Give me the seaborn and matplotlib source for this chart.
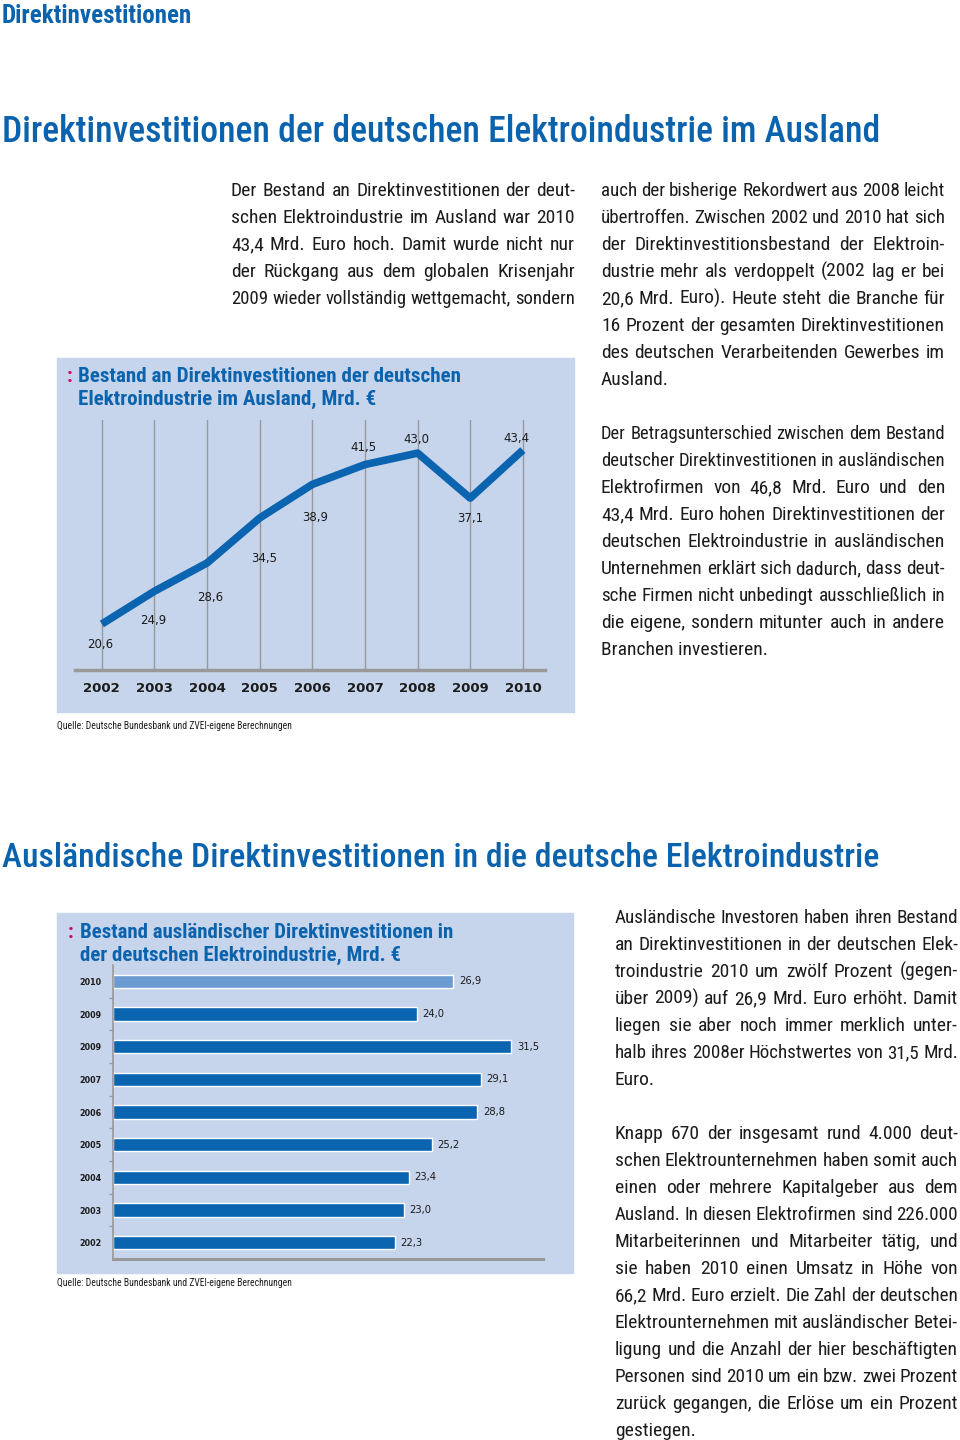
import matplotlib
matplotlib.use("Agg")
import matplotlib.pyplot as plt
import numpy as np
import pandas as pd
import seaborn as sns
from matplotlib import font_manager
from matplotlib.font_manager import FontProperties
from matplotlib.patches import Rectangle

# --- data -------------------------------------------------------------
line_years = [2002, 2003, 2004, 2005, 2006, 2007, 2008, 2009, 2010]
line_values = [20.6, 24.9, 28.6, 34.5, 38.9, 41.5, 43.0, 37.1, 43.4]

bar_labels = ["2010", "2009", "2009", "2007", "2006", "2005", "2004", "2003", "2002"]
bar_values = [26.9, 24.0, 31.5, 29.1, 28.8, 25.2, 23.4, 23.0, 22.3]

header = "Direktinvestitionen"
title1 = "Direktinvestitionen der deutschen Elektroindustrie im Ausland"
title2 = "Ausländische Direktinvestitionen in die deutsche Elektroindustrie"
chart1_title = ["Bestand an Direktinvestitionen der deutschen",
                "Elektroindustrie im Ausland, Mrd. €"]
chart2_title = ["Bestand ausländischer Direktinvestitionen in",
                "der deutschen Elektroindustrie, Mrd. €"]
source = "Quelle: Deutsche Bundesbank und ZVEI-eigene Berechnungen"

text1_left = [
    "Der Bestand an Direktinvestitionen der  deut-",
    "schen Elektroindustrie im Ausland war 2010",
    "43,4 Mrd. Euro hoch. Damit wurde nicht nur",
    "der Rückgang aus dem globalen Krisenjahr",
    "2009 wieder vollständig wettgemacht, sondern",
]
text1_right_a = [
    "auch der bisherige Rekordwert aus 2008 leicht",
    "übertroffen. Zwischen 2002 und 2010 hat sich",
    "der Direktinvestitionsbestand der Elektroin-",
    "dustrie mehr als verdoppelt (2002 lag er bei",
    "20,6 Mrd. Euro). Heute steht die Branche für",
    "16 Prozent der gesamten Direktinvestitionen",
    "des deutschen Verarbeitenden Gewerbes im",
    "Ausland.",
]
text1_right_b = [
    "Der Betragsunterschied zwischen dem Bestand",
    "deutscher Direktinvestitionen in ausländischen",
    "Elektrofirmen von 46,8 Mrd. Euro und den",
    "43,4 Mrd. Euro hohen Direktinvestitionen der",
    "deutschen Elektroindustrie in ausländischen",
    "Unternehmen erklärt sich dadurch, dass deut-",
    "sche Firmen nicht unbedingt ausschließlich in",
    "die eigene, sondern mitunter auch in andere",
    "Branchen investieren.",
]
text2_a = [
    "Ausländische Investoren haben ihren Bestand",
    "an Direktinvestitionen in der deutschen Elek-",
    "troindustrie 2010 um zwölf Prozent (gegen-",
    "über 2009) auf 26,9 Mrd. Euro erhöht. Damit",
    "liegen sie aber noch immer merklich unter-",
    "halb ihres 2008er Höchstwertes von 31,5 Mrd.",
    "Euro.",
]
text2_b = [
    "Knapp 670 der insgesamt rund 4.000 deut-",
    "schen Elektrounternehmen haben somit auch",
    "einen oder mehrere Kapitalgeber aus dem",
    "Ausland. In diesen Elektrofirmen sind 226.000",
    "Mitarbeiterinnen und Mitarbeiter tätig, und",
    "sie haben 2010 einen Umsatz in Höhe von",
    "66,2 Mrd. Euro erzielt. Die Zahl der deutschen",
    "Elektrounternehmen mit ausländischer Betei-",
    "ligung und die Anzahl der hier beschäftigten",
    "Personen sind 2010 um ein bzw. zwei Prozent",
    "zurück gegangen, die Erlöse um ein Prozent",
    "gestiegen.",
]

# --- style ------------------------------------------------------------
BLUE = "#0c63ad"
LINE_BLUE = "#0a64b0"
LIGHT_BAR = "#6b9bd1"
PINK = "#d6006e"
PANEL = "#c6d4ec"
GRID = "#999999"
INK = "#1c1c1c"
NUM_FONT = ["DejaVu Sans"]

# label offsets (points) for the line chart value labels
label_dx = [-1, -1, 2, 3, 2, -1, -1, 0, -5]
label_dy = [-15, -21, -25, -29, -24, 12, 10, -15, 8]

sns.set_theme(style="white")
available = {f.name for f in font_manager.fontManager.ttflist}
FONT = "DejaVu Sans"
for cand in ["Liberation Sans Narrow", "Roboto Condensed", "Arial Narrow", "Roboto", "Liberation Sans"]:
    if cand in available:
        FONT = cand
        break
plt.rcParams["font.family"] = [FONT, "DejaVu Sans"]

W, H = 960, 1440
fig = plt.figure(figsize=(W / 100, H / 100), dpi=100)
fig.patch.set_facecolor("white")
renderer = fig.canvas.get_renderer()


def fx(x):
    return x / W


def fy(y):
    return 1 - y / H


def text_width(s, size, weight="normal"):
    fp = FontProperties(family=[FONT, "DejaVu Sans"], size=size, weight=weight)
    return renderer.get_text_width_height_descent(s, fp, ismath=False)[0]


def fit_size(s, width, weight="normal"):
    return 20 * width / text_width(s, 20, weight)


def justify(lines, x0, x1, y0, dy, size, last_ragged=True, color=INK):
    # lines are stretched to the column width; a line too long gets a smaller size
    min_gap = 4
    for i, line in enumerate(lines):
        base = y0 + i * dy + 6
        words = line.split()
        if (last_ragged and i == len(lines) - 1) or len(words) < 2:
            fig.text(fx(x0), fy(base), line, fontsize=size, color=color, va="baseline")
            continue
        s = size
        widths = [text_width(w, s) for w in words]
        room = x1 - x0 - min_gap * (len(words) - 1)
        if sum(widths) > room:
            s = size * room / sum(widths)
            widths = [text_width(w, s) for w in words]
        gap = (x1 - x0 - sum(widths)) / (len(words) - 1)
        x = x0
        for w, wd in zip(words, widths):
            fig.text(fx(x), fy(base), w, fontsize=s, color=color, va="baseline")
            x += wd + gap


# --- page titles --------------------------------------------------------
fig.text(fx(2), fy(16), header, fontsize=fit_size(header, 190, "bold"),
         weight="bold", color=BLUE, va="center")
fig.text(fx(2), fy(132), title1, fontsize=fit_size(title1, 878, "medium"),
         weight="medium", color=BLUE, va="center")
fig.text(fx(2), fy(858), title2, fontsize=fit_size(title2, 878, "medium"),
         weight="medium", color=BLUE, va="center")

# --- panels -------------------------------------------------------------
fig.patches.append(Rectangle((fx(57), fy(712)), 517 / W, 354 / H,
                             transform=fig.transFigure, color=PANEL, zorder=-5))
fig.patches.append(Rectangle((fx(57), fy(1273)), 516 / W, 360 / H,
                             transform=fig.transFigure, color=PANEL, zorder=-5))

ts = fit_size(chart1_title[0], 381, "bold")
fig.text(fx(67), fy(376), ":", fontsize=ts, weight="bold", color=PINK, va="center")
for i, s in enumerate(chart1_title):
    fig.text(fx(78), fy(376 + 23 * i), s, fontsize=ts, weight="bold", color=BLUE, va="center")

ts2 = fit_size(chart2_title[0], 374, "bold")
fig.text(fx(68), fy(932), ":", fontsize=ts2, weight="bold", color=PINK, va="center")
for i, s in enumerate(chart2_title):
    fig.text(fx(80), fy(932 + 23 * i), s, fontsize=ts2, weight="bold", color=BLUE, va="center")

src_size = fit_size(source, 231)
fig.text(fx(57), fy(726), source, fontsize=src_size, color=INK, va="center")
fig.text(fx(57), fy(1283), source, fontsize=src_size, color=INK, va="center")

# --- line chart -----------------------------------------------------------
ax1 = fig.add_axes([fx(75), fy(670), 470 / W, 250 / H])
ax1.set_facecolor("none")
sns.lineplot(x=line_years, y=line_values, ax=ax1, color=LINE_BLUE, linewidth=5.5,
             solid_joinstyle="round", solid_capstyle="butt")
ax1.set_xlim(2001.49, 2010.42)
ax1.set_ylim(14.57, 47.34)
ax1.set_xticks(line_years)
ax1.set_xticklabels([str(y) for y in line_years], fontsize=9.5, weight="bold",
                    color=INK, family=NUM_FONT)
ax1.set_yticks([])
ax1.tick_params(axis="x", length=0, pad=9)
ax1.grid(axis="x", color=GRID, linewidth=1)
ax1.set_axisbelow(True)
for side in ["top", "right", "left"]:
    ax1.spines[side].set_visible(False)
ax1.spines["bottom"].set_color(GRID)
ax1.spines["bottom"].set_linewidth(2.5)
ax1.set_xlabel("")
ax1.set_ylabel("")

for yr, v, dx, dy in zip(line_years, line_values, label_dx, label_dy):
    ax1.annotate(f"{v:.1f}".replace(".", ","), (yr, v), xytext=(dx, dy),
                 textcoords="offset points", ha="center", va="center",
                 fontsize=8.5, color=INK, family=NUM_FONT)

# --- bar chart ------------------------------------------------------------
df = pd.DataFrame({"slot": [str(i) for i in range(len(bar_values))], "value": bar_values})
palette = {str(i): (LIGHT_BAR if i == 0 else LINE_BLUE) for i in range(len(bar_values))}
ax2 = fig.add_axes([fx(113), fy(1259), 430 / W, 294 / H])
ax2.set_facecolor("none")
sns.barplot(data=df, x="value", y="slot", hue="slot", palette=palette, legend=False,
            orient="h", width=0.41, saturation=1, ax=ax2)
ax2.set_xlim(0, 34)
ax2.set_ylim(8.5, -0.5)
ax2.set_xticks([])
ax2.set_yticks(range(len(bar_labels)))
ax2.set_yticklabels(bar_labels, fontsize=5.8, weight="bold", color=INK, family=NUM_FONT)
ax2.set_yticks(np.arange(0.5, len(bar_labels) - 1, 1), minor=True)
ax2.tick_params(axis="y", which="major", length=0, pad=8)
ax2.tick_params(axis="y", which="minor", left=True, length=3, width=1, color=GRID, direction="out")
for side in ["top", "right"]:
    ax2.spines[side].set_visible(False)
ax2.spines["left"].set_color(GRID)
ax2.spines["left"].set_linewidth(1.2)
ax2.spines["bottom"].set_color(GRID)
ax2.spines["bottom"].set_linewidth(2.2)
ax2.set_xlabel("")
ax2.set_ylabel("")
for cont in ax2.containers:
    ax2.bar_label(cont, labels=[f"{b.get_width():.1f}".replace(".", ",") for b in cont],
                  padding=4, fontsize=7.2, color=INK, family=NUM_FONT)

# --- body text ------------------------------------------------------------
# one size for all columns, a bit above the size at which the longest line fits
columns = [(text1_left, 344), (text1_right_a, 344), (text1_right_b, 344),
           (text2_a, 343), (text2_b, 343)]
BODY = min(fit_size(l, w) for lines, w in columns for l in lines) * 1.05
justify(text1_left, 231, 575, 190, 27, BODY, last_ragged=False)
justify(text1_right_a, 601, 945, 190, 27, BODY)
justify(text1_right_b, 601, 945, 433, 27, BODY)
justify(text2_a, 615, 958, 917, 27, BODY)
justify(text2_b, 615, 958, 1133, 27, BODY)

fig.savefig("out.png", dpi=100, facecolor="white")
